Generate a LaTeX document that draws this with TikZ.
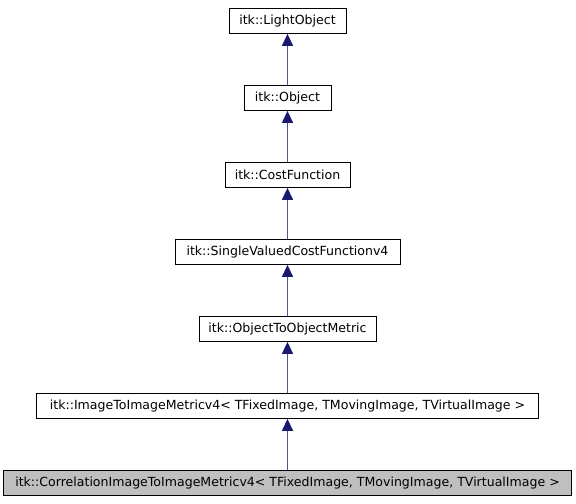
\documentclass[tikz,border=0pt]{standalone}
\usepackage{fontspec}
\setmainfont{DejaVu Sans}
\usetikzlibrary{arrows.meta}
\definecolor{edgeblue}{RGB}{25,25,112}
\definecolor{edgeline}{RGB}{85,85,155}
\tikzset{
  cls/.style={draw=black,line width=0.8bp,fill=white,minimum height=25bp,inner sep=0pt,
    font=\fontsize{12.6}{14}\selectfont},
  inh/.style={draw=edgeline,line width=1.3bp,
    {Triangle[length=12bp,width=11bp,fill=edgeblue,color=edgeblue]}-},
}
\begin{document}
\begin{tikzpicture}[x=1bp,y=-1bp]
    \path[use as bounding box,fill=white] (0,0) rectangle (576,504);
    \node[cls,minimum width=117bp] (light) at (287.5,21) {itk::LightObject};
    \node[cls,minimum width=87bp] (object) at (287.5,98) {itk::Object};
    \node[cls,minimum width=125bp] (costfn) at (287.5,175) {itk::CostFunction};
    \node[cls,minimum width=225bp] (svcf) at (287.5,252) {itk::SingleValuedCostFunctionv4};
    \node[cls,minimum width=177bp] (o2o) at (287.5,329) {itk::ObjectToObjectMetric};
    \node[cls,minimum width=502bp] (i2i) at (287.5,406) {itk::ImageToImageMetricv4< TFixedImage, TMovingImage, TVirtualImage >};
    \node[cls,minimum width=568bp,fill=black!25] (corr) at (287.5,483) {itk::CorrelationImageToImageMetricv4< TFixedImage, TMovingImage, TVirtualImage >};
    % inheritance edges
    \draw[inh] (light) -- (object);
    \draw[inh] (object) -- (costfn);
    \draw[inh] (costfn) -- (svcf);
    \draw[inh] (svcf) -- (o2o);
    \draw[inh] (o2o) -- (i2i);
    \draw[inh] (i2i) -- (corr);
\end{tikzpicture}
\end{document}
